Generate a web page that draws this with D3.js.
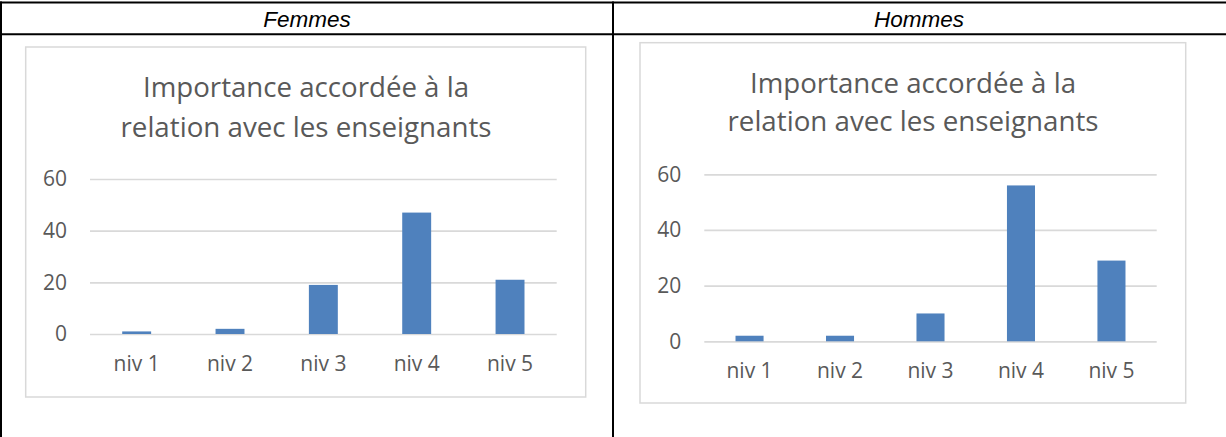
<!DOCTYPE html>
<html>
<head>
<meta charset="utf-8">
<script src="https://cdn.jsdelivr.net/npm/d3@7"></script>
<style>
  body { margin: 0; background: #fff; }
  svg { display: block; }
</style>
</head>
<body>
<div id="my_dataviz"></div>
<script>
// data
var categories = ["niv 1", "niv 2", "niv 3", "niv 4", "niv 5"];
var femmesValues = [1, 2, 19, 47, 21];
var hommesValues = [2, 2, 10, 56, 29];
var yTicks = [0, 20, 40, 60];
var headerLabels = ["Femmes", "Hommes"];
var titleLines = ["Importance accordée à la", "relation avec les enseignants"];

var W = 1226, H = 437;
var svg = d3.select("#my_dataviz")
  .append("svg")
    .attr("width", W)
    .attr("height", H);

// table frame
var tableStroke = "#000";
svg.append("line").attr("x1", 0).attr("x2", W).attr("y1", 2.5).attr("y2", 2.5)
  .attr("stroke", tableStroke).attr("stroke-width", 2);
svg.append("line").attr("x1", 0).attr("x2", W).attr("y1", 34.3).attr("y2", 34.3)
  .attr("stroke", tableStroke).attr("stroke-width", 2);
svg.append("line").attr("x1", 1).attr("x2", 1).attr("y1", 1.5).attr("y2", H)
  .attr("stroke", tableStroke).attr("stroke-width", 2);
svg.append("line").attr("x1", 613).attr("x2", 613).attr("y1", 1.5).attr("y2", H)
  .attr("stroke", tableStroke).attr("stroke-width", 2);

// header cells
var headerCenters = [307, 919];
headerLabels.forEach(function(lbl, i) {
  svg.append("text")
    .attr("x", headerCenters[i])
    .attr("y", 26.5)
    .attr("text-anchor", "middle")
    .style("font-family", "'Liberation Sans', Arial, sans-serif")
    .style("font-style", "italic")
    .style("font-size", "22.5px")
    .style("fill", "#000")
    .text(lbl);
});

function drawChart(values, cfg) {
  var g = svg.append("g");

  // chart area border
  g.append("rect")
    .attr("x", cfg.box[0]).attr("y", cfg.box[1])
    .attr("width", cfg.box[2] - cfg.box[0])
    .attr("height", cfg.box[3] - cfg.box[1])
    .attr("fill", "#fff")
    .attr("stroke", "#d9d9d9")
    .attr("stroke-width", 1.5);

  // title: taller glyphs squeezed to the measured widths (calibri-ish)
  titleLines.forEach(function(line, i) {
    g.append("text")
      .attr("x", cfg.titleX)
      .attr("y", cfg.titleY[i])
      .attr("text-anchor", "middle")
      .attr("textLength", cfg.titleW[i])
      .attr("lengthAdjust", "spacingAndGlyphs")
      .style("font-family", "'Open Sans', sans-serif")
      .style("font-size", "26.5px")
      .style("fill", "#595959")
      .text(line);
  });

  var x = d3.scaleBand()
    .domain(categories)
    .range([cfg.plot[0], cfg.plot[1]])
    .paddingInner(0.69)
    .paddingOuter(0.345);

  var y = d3.scaleLinear()
    .domain([0, 60])
    .range([cfg.plot[3], cfg.plot[2]]);

  // gridlines + y labels
  var yAxis = g.append("g")
    .attr("transform", "translate(" + cfg.plot[0] + ",0)")
    .call(d3.axisLeft(y).tickValues(yTicks).tickSize(-(cfg.plot[1] - cfg.plot[0])).tickPadding(23));
  yAxis.select(".domain").remove();
  yAxis.selectAll(".tick line").attr("stroke", "#d9d9d9").attr("stroke-width", 1.7);
  yAxis.selectAll(".tick text")
    .style("font-family", "'Open Sans', sans-serif")
    .style("font-size", "21px")
    .style("fill", "#595959");

  // bars
  g.selectAll("rect.bar")
    .data(values)
    .enter()
    .append("rect")
      .attr("class", "bar")
      .attr("x", function(d, i) { return x(categories[i]); })
      .attr("width", x.bandwidth())
      .attr("y", function(d) { return y(d); })
      .attr("height", function(d) { return y(0) - y(d); })
      .attr("fill", "#4f81bd");

  // category labels
  var xAxis = g.append("g")
    .attr("transform", "translate(0," + cfg.plot[3] + ")")
    .call(d3.axisBottom(x).tickSize(0).tickPadding(22));
  xAxis.select(".domain").remove();
  xAxis.selectAll(".tick text")
    .style("font-family", "'Open Sans', sans-serif")
    .style("font-size", "21px")
    .style("fill", "#595959");
}

drawChart(femmesValues, {
  box: [25.7, 47, 585.7, 397],
  plot: [90, 556.7, 179, 334],
  titleX: 306,
  titleY: [97, 136.7],
  titleW: [326, 371]
});

drawChart(hommesValues, {
  box: [640, 42.7, 1185.7, 403],
  plot: [704.3, 1156.7, 174.3, 341.3],
  titleX: 913,
  titleY: [93.3, 130.7],
  titleW: [326, 371]
});
</script>
</body>
</html>
